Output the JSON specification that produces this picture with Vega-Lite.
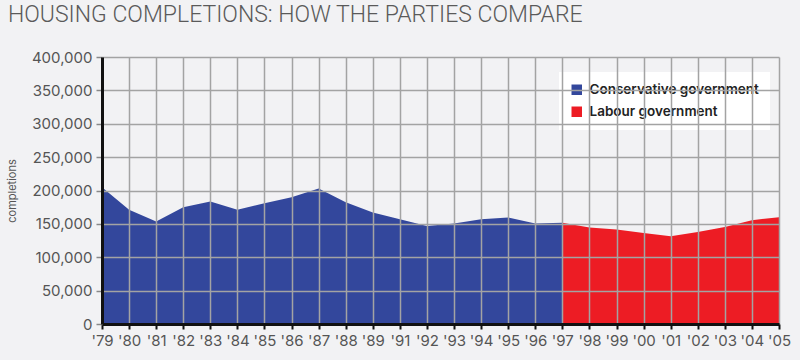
{
  "$schema": "https://vega.github.io/schema/vega-lite/v6.json",
  "width": 677,
  "height": 267,
  "autosize": {"type": "none"},
  "padding": {"left": 102, "top": 57, "right": 21, "bottom": 36},
  "background": "#f2f2f4",
  "title": {
    "text": "HOUSING COMPLETIONS: HOW THE PARTIES COMPARE",
    "anchor": "start",
    "frame": "group",
    "dx": -94,
    "offset": 23,
    "font": "Roboto",
    "fontWeight": 300,
    "fontSize": 23,
    "color": "#5a5a5a"
  },
  "config": {
    "view": {"stroke": null, "fill": "#f2f2f4"},
    "font": "Inter"
  },
  "data": {
    "values": [
      {"year": "'79", "completions": 205000, "government": "Conservative government"},
      {"year": "'80", "completions": 171000, "government": "Conservative government"},
      {"year": "'81", "completions": 153500, "government": "Conservative government"},
      {"year": "'82", "completions": 175000, "government": "Conservative government"},
      {"year": "'83", "completions": 183500, "government": "Conservative government"},
      {"year": "'84", "completions": 171000, "government": "Conservative government"},
      {"year": "'85", "completions": 181000, "government": "Conservative government"},
      {"year": "'86", "completions": 190000, "government": "Conservative government"},
      {"year": "'87", "completions": 203000, "government": "Conservative government"},
      {"year": "'88", "completions": 182500, "government": "Conservative government"},
      {"year": "'89", "completions": 167000, "government": "Conservative government"},
      {"year": "'91", "completions": 157000, "government": "Conservative government"},
      {"year": "'92", "completions": 147000, "government": "Conservative government"},
      {"year": "'93", "completions": 150500, "government": "Conservative government"},
      {"year": "'94", "completions": 157000, "government": "Conservative government"},
      {"year": "'95", "completions": 159500, "government": "Conservative government"},
      {"year": "'96", "completions": 150500, "government": "Conservative government"},
      {"year": "'97", "completions": 151500, "government": "Conservative government"},
      {"year": "'97", "completions": 151500, "government": "Labour government"},
      {"year": "'98", "completions": 144500, "government": "Labour government"},
      {"year": "'99", "completions": 141500, "government": "Labour government"},
      {"year": "'00", "completions": 136500, "government": "Labour government"},
      {"year": "'01", "completions": 131500, "government": "Labour government"},
      {"year": "'02", "completions": 138000, "government": "Labour government"},
      {"year": "'03", "completions": 145500, "government": "Labour government"},
      {"year": "'04", "completions": 155500, "government": "Labour government"},
      {"year": "'05", "completions": 160000, "government": "Labour government"}
    ]
  },
  "mark": {"type": "area", "interpolate": "linear", "opacity": 1},
  "encoding": {
    "x": {
      "field": "year",
      "type": "ordinal",
      "sort": null,
      "scale": {"type": "point", "padding": 0},
      "axis": {
        "title": null,
        "labelAngle": 0,
        "labelFontSize": 15,
        "labelColor": "#555555",
        "labelPadding": 4,
        "domainColor": "#111111",
        "domainWidth": 3,
        "tickColor": "#111111",
        "tickWidth": 2,
        "tickSize": 5,
        "grid": true,
        "gridColor": "#a3a3a3",
        "gridWidth": 1.5,
        "gridOpacity": 1,
        "zindex": 1
      }
    },
    "y": {
      "field": "completions",
      "type": "quantitative",
      "stack": null,
      "scale": {"domain": [0, 400000], "nice": false},
      "axis": {
        "title": "completions",
        "titleFontSize": 11,
        "titleFontWeight": "normal",
        "titleColor": "#555555",
        "titlePadding": 14,
        "values": [0, 50000, 100000, 150000, 200000, 250000, 300000, 350000, 400000],
        "format": ",d",
        "labelFontSize": 15,
        "labelColor": "#555555",
        "labelPadding": 4,
        "domainColor": "#111111",
        "domainWidth": 3,
        "tickColor": "#888888",
        "tickWidth": 1.5,
        "tickSize": 6,
        "grid": true,
        "gridColor": "#a3a3a3",
        "gridWidth": 1.5,
        "gridOpacity": 1,
        "zindex": 1
      }
    },
    "color": {
      "field": "government",
      "type": "nominal",
      "scale": {
        "domain": ["Conservative government", "Labour government"],
        "range": ["#33479c", "#ed1c24"]
      },
      "legend": {
        "title": null,
        "orient": "none",
        "legendX": 457,
        "legendY": 15,
        "fillColor": "#ffffff",
        "padding": 11,
        "symbolType": "square",
        "symbolSize": 110,
        "symbolStrokeWidth": 0,
        "symbolOpacity": 1,
        "labelFontSize": 13.5,
        "labelFontWeight": 600,
        "labelColor": "#222222",
        "labelOffset": 6,
        "rowPadding": 7,
        "labelLimit": 300
      }
    }
  }
}
